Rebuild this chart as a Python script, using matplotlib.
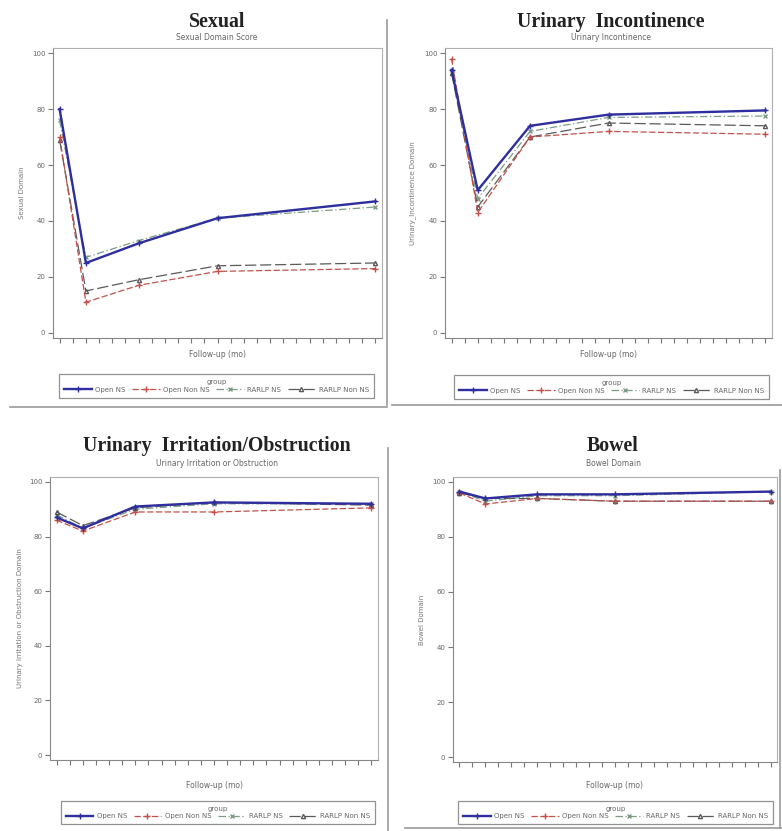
import matplotlib
matplotlib.use("Agg")
import matplotlib.pyplot as plt
from matplotlib.lines import Line2D

# ---------------- data ----------------
months = [0, 2, 6, 12, 24]
groups = ["Open NS", "Open Non NS", "RARLP NS", "RARLP Non NS"]

sexual_open_ns = [80, 25, 32, 41, 47]
sexual_open_non_ns = [70, 11, 17, 22, 23]
sexual_rarlp_ns = [76, 27, 33, 41, 45]
sexual_rarlp_non_ns = [69, 15, 19, 24, 25]

incont_open_ns = [94, 51, 74, 78, 79.5]
incont_open_non_ns = [98, 43, 70, 72, 71]
incont_rarlp_ns = [93, 48, 72, 77, 77.5]
incont_rarlp_non_ns = [93, 45, 70, 75, 74]

irrit_open_ns = [87, 83, 91, 92.5, 92]
irrit_open_non_ns = [86, 82, 89, 89, 90.5]
irrit_rarlp_ns = [88, 83, 90, 92, 92]
irrit_rarlp_non_ns = [89, 84, 90.5, 92.5, 91.5]

bowel_open_ns = [96.5, 94, 95.5, 95.5, 96.5]
bowel_open_non_ns = [96, 92, 94, 93, 93]
bowel_rarlp_ns = [96.5, 93, 95, 95, 96.5]
bowel_rarlp_non_ns = [96, 94, 94, 93, 93]

titles = ["Sexual", "Urinary  Incontinence", "Urinary  Irritation/Obstruction", "Bowel"]
subtitles = ["Sexual Domain Score", "Urinary Incontinence",
             "Urinary Irritation or Obstruction", "Bowel Domain"]
ylabels = ["Sexual Domain", "Urinary_Incontinence Domain",
           "Urinary Irritation or Obstruction Domain", "Bowel Domain"]
yticks = [0, 20, 40, 60, 80, 100]
xlabel = "Follow-up (mo)"
legend_title = "group"

series = [
    [sexual_open_ns, sexual_open_non_ns, sexual_rarlp_ns, sexual_rarlp_non_ns],
    [incont_open_ns, incont_open_non_ns, incont_rarlp_ns, incont_rarlp_non_ns],
    [irrit_open_ns, irrit_open_non_ns, irrit_rarlp_ns, irrit_rarlp_non_ns],
    [bowel_open_ns, bowel_open_non_ns, bowel_rarlp_ns, bowel_rarlp_non_ns],
]

# ---------------- styles ----------------
W, H = 782, 831
styles = [
    dict(color="#2e2e9e", lw=1.7, ls="-", marker="+", ms=4, zorder=5),
    dict(color="#c4504a", lw=0.9, ls=(0, (5, 2)), marker="+", ms=4, zorder=4),
    dict(color="#7c9c84", lw=0.9, ls=(0, (6, 2, 1, 2)), marker="x", ms=3, zorder=3),
    dict(color="#5a5a5a", lw=0.9, ls=(0, (9, 3)), marker="^", ms=3, mfc="none", zorder=3),
]

fig = plt.figure(figsize=(W / 100, H / 100), dpi=100)
fig.patch.set_facecolor("white")


def fx(x):
    return x / W


def fy(y):
    return 1 - y / H


# panel layout in pixels: (left, right, top, bottom) of axes
panels = [
    dict(ax=(53, 382, 48, 338), title=(217, 22), sub=(217, 38), ylab=22,
         xlab=355, leg=(60, 373, 370, 402)),
    dict(ax=(445, 772, 48, 338), title=(611, 22), sub=(611, 38), ylab=413,
         xlab=355, leg=(453, 770, 372, 402)),
    dict(ax=(50, 378, 477, 760), title=(217, 446), sub=(217, 464), ylab=20,
         xlab=785, leg=(60, 376, 797, 828)),
    dict(ax=(453, 777, 477, 762), title=(613, 446), sub=(613, 464), ylab=422,
         xlab=785, leg=(458, 773, 797, 828)),
]

for i, p in enumerate(panels):
    l, r, t, b = p["ax"]
    ax = fig.add_axes([fx(l), fy(b), fx(r - l), (b - t) / H])
    for k, vals in enumerate(series[i]):
        ax.plot(months, vals, label=groups[k], **styles[k])
    ax.set_xlim(-0.5, 24.5)
    ax.set_ylim(-1.8, 101.8)
    ax.set_xticks(range(0, 25))
    ax.set_xticklabels([])
    ax.set_yticks(yticks)
    ax.set_yticklabels([str(v) for v in yticks], fontsize=5, color="#666666")
    ax.tick_params(axis="both", direction="out", length=3.5, width=0.8, colors="#777777",
                   labelcolor="#666666", pad=2)
    for s in ax.spines.values():
        s.set_color("#b0b0b0")
        s.set_linewidth(0.8)
    ax.spines["left"].set_color("#888888")
    ax.spines["bottom"].set_color("#888888")

    fig.text(fx(p["title"][0]), fy(p["title"][1]), titles[i], ha="center", va="center",
             fontsize=14.3, fontweight="bold", family="Liberation Serif", color="#222222")
    fig.text(fx(p["sub"][0]), fy(p["sub"][1]), subtitles[i], ha="center", va="center",
             fontsize=5.5, color="#666666")
    fig.text(fx(p["ylab"]), fy((t + b) / 2), ylabels[i], rotation=90, ha="center",
             va="center", fontsize=5, color="#777777")
    fig.text(fx((l + r) / 2), fy(p["xlab"]), xlabel, ha="center", va="center",
             fontsize=5.5, color="#666666")

    ll, lr, lt, lb = p["leg"]
    leg = ax.legend(loc="center", bbox_to_anchor=(fx((ll + lr) / 2), fy((lt + lb) / 2)),
                    bbox_transform=fig.transFigure, ncol=4, title=legend_title,
                    fontsize=5, title_fontsize=5, frameon=True, fancybox=False,
                    edgecolor="#777777", handlelength=4.0, columnspacing=0.9,
                    handletextpad=0.5, borderpad=0.7, labelspacing=0.2)
    leg.get_frame().set_linewidth(0.9)
    for txt in leg.get_texts():
        txt.set_color("#666666")
    leg.get_title().set_color("#666666")

# panel border lines (screenshot frames)
border = dict(color="#999999", lw=1.2, transform=fig.transFigure)
fig.add_artist(Line2D([fx(387), fx(387)], [fy(20), fy(405)], **border))
fig.add_artist(Line2D([fx(10), fx(387)], [fy(407), fy(407)], **border))
fig.add_artist(Line2D([fx(392), fx(782)], [fy(405), fy(405)], **border))
fig.add_artist(Line2D([fx(388), fx(388)], [fy(448), fy(831)], **border))
fig.add_artist(Line2D([fx(405), fx(782)], [fy(828), fy(828)], **border))
fig.add_artist(Line2D([fx(780), fx(780)], [fy(470), fy(828)], **border))

fig.savefig("out.png", dpi=100, facecolor="white")
